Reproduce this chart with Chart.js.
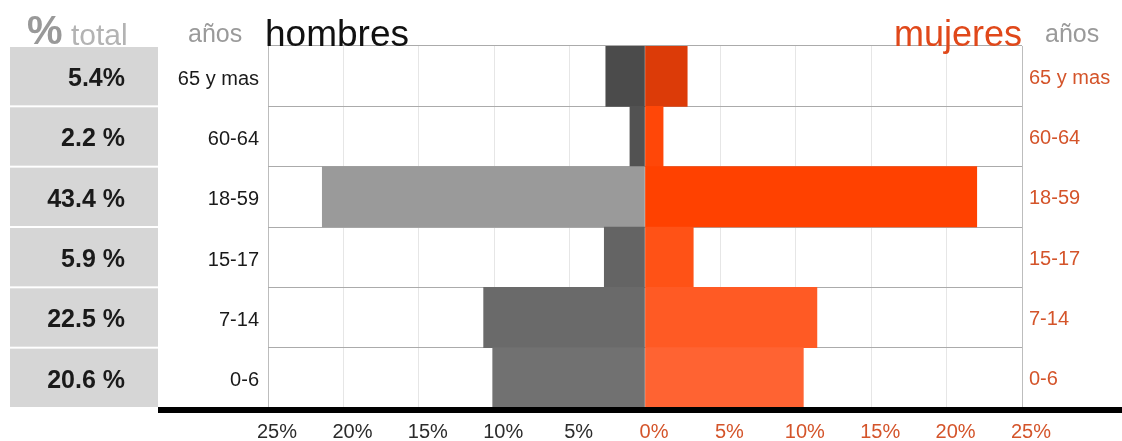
<!DOCTYPE html>
<html lang="es">
<head>
  <meta charset="UTF-8">
  <title>Pirámide de edad</title>
  <script src="https://cdn.jsdelivr.net/npm/chart.js"></script>
  <style>
    html, body { margin: 0; padding: 0; background: #fff; }
    #wrap { position: relative; width: 1122px; height: 441px; }
  </style>
</head>
<body>
  <div id="wrap">
    <canvas id="pyramid" width="1122" height="441"></canvas>
  </div>

  <script>
    // data
    const ageGroups = ['65 y mas', '60-64', '18-59', '15-17', '7-14', '0-6'];
    const menShare = [2.6, 1.0, 21.4, 2.7, 10.7, 10.1];     // % (drawn to the left)
    const womenShare = [2.8, 1.2, 22.0, 3.2, 11.4, 10.5];   // % (drawn to the right)
    const totalLabels = ['5.4%', '2.2 %', '43.4 %', '5.9 %', '22.5 %', '20.6 %'];
    const axisTicks = [-25, -20, -15, -10, -5, 0, 5, 10, 15, 20, 25];

    const menColors = ['#4b4b4b', '#525252', '#9a9a9a', '#646464', '#6a6a6a', '#717171'];
    const womenColors = ['#dc3b08', '#ff4708', '#ff4100', '#ff5216', '#ff5a24', '#ff6332'];
    const ORANGE = '#d4542a';
    const FONT = '"Liberation Sans", Arial, sans-serif';

    // headers, the "% total" boxes and the heavy base line
    const decorations = {
      id: 'decorations',
      beforeDatasetsDraw(chart) {
        const { ctx } = chart;
        const y = chart.scales.y;
        const rowH = (y.bottom - y.top) / ageGroups.length;
        ctx.save();
        totalLabels.forEach((txt, i) => {
          const top = y.top + i * rowH;
          ctx.fillStyle = '#d6d6d6';
          ctx.fillRect(10, top + 1, 148, rowH - 2);
          ctx.fillStyle = '#1a1a1a';
          ctx.font = 'bold 25px ' + FONT;
          ctx.textAlign = 'right';
          ctx.textBaseline = 'middle';
          ctx.fillText(txt, 125, y.getPixelForValue(i) + 3);
        });
        ctx.restore();
      },
      afterDraw(chart) {
        const { ctx, chartArea } = chart;
        ctx.save();
        ctx.textBaseline = 'alphabetic';
        ctx.textAlign = 'left';
        ctx.fillStyle = '#999';
        ctx.font = 'bold 40px ' + FONT;
        ctx.fillText('%', 27, 44);
        ctx.fillStyle = '#b3b3b3';
        ctx.font = '30px ' + FONT;
        ctx.fillText('total', 71, 45);
        ctx.fillStyle = '#9a9a9a';
        ctx.font = '25px ' + FONT;
        ctx.fillText('años', 188, 42);
        ctx.fillText('años', 1045, 42);
        ctx.fillStyle = '#111';
        ctx.font = '37px ' + FONT;
        ctx.fillText('hombres', 265, 46);
        ctx.textAlign = 'right';
        ctx.fillStyle = '#e0481a';
        ctx.font = '36px ' + FONT;
        ctx.fillText('mujeres', chartArea.right, 46);
        // heavy base line
        ctx.fillStyle = '#000';
        ctx.fillRect(158, chartArea.bottom - 1, 1122 - 158, 6);
        ctx.restore();
      }
    };

    new Chart(document.getElementById('pyramid'), {
      type: 'bar',
      data: {
        labels: ageGroups,
        datasets: [
          {
            label: 'hombres',
            data: menShare.map(v => -v),
            backgroundColor: menColors,
            borderWidth: 0,
            barPercentage: 1,
            categoryPercentage: 1
          },
          {
            label: 'mujeres',
            data: womenShare,
            backgroundColor: womenColors,
            borderWidth: 0,
            barPercentage: 1,
            categoryPercentage: 1
          }
        ]
      },
      options: {
        indexAxis: 'y',
        responsive: false,
        animation: false,
        layout: { padding: { left: 160, right: 0, top: 46, bottom: 0 } },
        plugins: {
          legend: { display: false },
          tooltip: { enabled: false }
        },
        scales: {
          x: {
            stacked: true,
            min: -25,
            max: 25,
            z: 1,
            afterFit: s => { s.height = 33; },
            afterBuildTicks: s => { s.ticks = axisTicks.map(v => ({ value: v })); },
            border: { display: false },
            grid: {
              drawTicks: false,
              color: c => Math.abs(c.tick.value) === 25 ? '#bdbdbd' : 'rgba(205,205,205,0.5)'
            },
            ticks: {
              padding: 12,
              labelOffset: 9,
              font: { family: FONT, size: 20 },
              color: c => c.tick.value >= 0 ? ORANGE : '#2b2b2b',
              callback: v => Math.abs(v) + '%'
            }
          },
          y: {
            stacked: true,
            afterFit: s => { s.width = 108; },
            border: { display: false },
            grid: { offset: true, drawTicks: false, color: '#ababab' },
            ticks: {
              padding: 9,
              labelOffset: 3,
              font: { family: FONT, size: 20 },
              color: '#1a1a1a'
            }
          },
          y2: {
            type: 'category',
            labels: ageGroups,
            position: 'right',
            offset: true,
            afterFit: s => { s.width = 100; },
            border: { display: false },
            grid: { display: false, drawTicks: false },
            ticks: {
              padding: 7,
              labelOffset: 2,
              font: { family: FONT, size: 20 },
              color: ORANGE
            }
          }
        }
      },
      plugins: [decorations]
    });
  </script>
</body>
</html>
